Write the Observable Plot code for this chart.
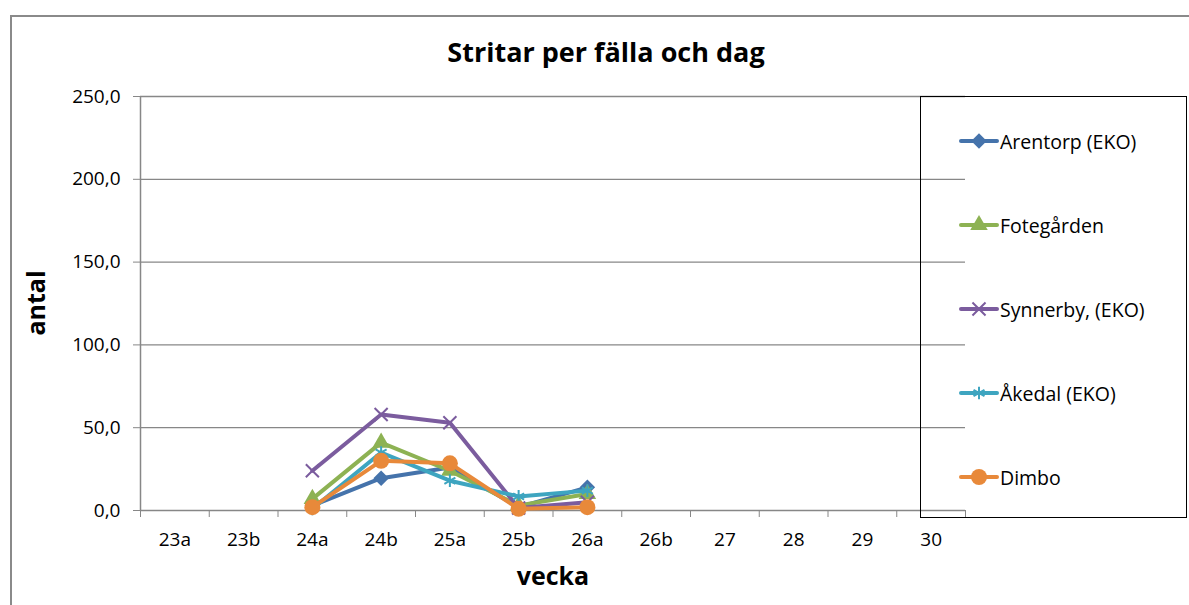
<!DOCTYPE html>
<html>
<head>
<meta charset="utf-8">
<script src="https://cdn.jsdelivr.net/npm/d3@7"></script>
<script src="https://cdn.jsdelivr.net/npm/@observablehq/plot@0.6"></script>
<style>
  html, body { margin: 0; padding: 0; background: #fff; }
  #wrap { position: relative; width: 1189px; height: 605px; overflow: hidden; font-family: "Open Sans", sans-serif; }
  #frame { position: absolute; left: 10px; top: 15px; width: 1300px; height: 700px; border-left: 2px solid #8a8a8a; border-top: 2px solid #8a8a8a; }
  #title { position: absolute; left: 0; width: 1212px; top: 38px; text-align: center; font-weight: bold; font-size: 27px; line-height: 1; }
  #ylab { position: absolute; left: 35px; top: 303px; transform: translate(-50%, -50%) rotate(-90deg); font-weight: bold; font-size: 25px; line-height: 1; }
  #xlab { position: absolute; left: 553px; top: 575px; transform: translate(-50%, -50%); font-weight: bold; font-size: 25px; line-height: 1; }
  #chart { position: absolute; left: 0; top: 0; }
  #legend { position: absolute; left: 920px; top: 96px; width: 267px; height: 422px; border: 1.5px solid #000; box-sizing: border-box; }
  .item { position: absolute; left: 37px; height: 24px; display: flex; align-items: center; font-size: 19.5px; }
  .item svg { margin-right: 0px; }
</style>
</head>
<body>
<div id="wrap">
  <div id="frame"></div>
  <div id="chart"></div>
  <div id="title">Stritar per fälla och dag</div>
  <div id="ylab">antal</div>
  <div id="xlab">vecka</div>
  <div id="legend"></div>
</div>
<script>
const categories = ["23a","23b","24a","24b","25a","25b","26a","26b","27","28","29","30"];
const weeksWithData = ["24a","24b","25a","25b","26a"];
const seriesNames = ["Arentorp (EKO)","Fotegården","Synnerby, (EKO)","Åkedal (EKO)","Dimbo"];
const arentorp   = [3, 19.5, 26, 2, 14];
const fotegarden = [7, 41, 24, 3, 10];
const synnerby   = [24, 58, 53, 1.5, 5];
const akedal     = [1, 35, 18, 8.5, 12];
const dimbo      = [2, 30, 28.5, 1, 2];
const yTicks = [0, 50, 100, 150, 200, 250];

const seriesValues = [arentorp, fotegarden, synnerby, akedal, dimbo];
const colors = ["#4573ab", "#8db253", "#7b5c9e", "#3ea5c0", "#e8893a"];
const d3Symbols = [d3.symbolDiamond2, d3.symbolTriangle, d3.symbolTimes, d3.symbolAsterisk, d3.symbolCircle];
const symbolR = [7, 6.5, 6, 6, 8];
const stroked = [false, false, true, true, false];

const rows = seriesNames.flatMap((name, s) =>
  weeksWithData.map((w, i) => ({series: name, week: w, xi: categories.indexOf(w) + 0.5, value: seriesValues[s][i]}))
);

const marks = [
  Plot.gridY(yTicks.filter(d => d > 0), {stroke: "#878787", strokeOpacity: 1, strokeWidth: 1.3}),
  Plot.ruleY([0], {stroke: "#878787", strokeWidth: 1.5}),
  Plot.ruleX([0], {stroke: "#878787", strokeWidth: 1.5}),
  Plot.axisY({ticks: yTicks, tickSize: 7, tickPadding: 13, tickFormat: d => d.toFixed(1).replace(".", ","), label: null, stroke: "#878787", fill: "#000", fontSize: 19}),
  Plot.axisX({ticks: d3.range(categories.length + 1), tickSize: 7, tickFormat: () => "", label: null, stroke: "#878787"}),
  Plot.axisX({ticks: d3.range(categories.length).map(i => i + 0.5), tickSize: 0, tickPadding: 22, tickFormat: v => categories[Math.floor(v)], label: null, fill: "#000", fontSize: 19})
];

seriesNames.forEach((name, s) => {
  const data = rows.filter(r => r.series === name);
  marks.push(Plot.line(data, {x: "xi", y: "value", stroke: colors[s], strokeWidth: 4, strokeLinejoin: "round", strokeLinecap: "round"}));
  if (stroked[s]) {
    marks.push(Plot.dot(data, {x: "xi", y: "value", symbol: () => d3Symbols[s], r: symbolR[s], stroke: colors[s], strokeWidth: 2, fill: "none"}));
  } else {
    marks.push(Plot.dot(data, {x: "xi", y: "value", symbol: () => d3Symbols[s], r: symbolR[s], fill: colors[s], stroke: "none"}));
  }
});

const chart = Plot.plot({
  width: 1189,
  height: 605,
  marginLeft: 140,
  marginRight: 224,
  marginTop: 96,
  marginBottom: 95,
  x: {type: "linear", domain: [0, categories.length]},
  y: {domain: [0, 250]},
  symbol: {type: "identity"},
  style: {fontFamily: "Open Sans", fontSize: "19px", color: "#000", background: "transparent", overflow: "visible"},
  marks
});
document.getElementById("chart").appendChild(chart);

// Legend
const legend = document.getElementById("legend");
seriesNames.forEach((name, s) => {
  const item = document.createElement("div");
  item.className = "item";
  item.style.top = (32 + s * 84) + "px";
  const path = d3.symbol(d3Symbols[s], symbolR[s] * symbolR[s] * Math.PI)();
  const symAttr = stroked[s] ? `fill="none" stroke="${colors[s]}" stroke-width="2"` : `fill="${colors[s]}"`;
  item.innerHTML = `<svg width="42" height="24"><line x1="3" x2="39" y1="12" y2="12" stroke="${colors[s]}" stroke-width="4" stroke-linecap="round"/><path transform="translate(21,12)" d="${path}" ${symAttr}/></svg><span>${name}</span>`;
  legend.appendChild(item);
});
</script>
</body>
</html>
